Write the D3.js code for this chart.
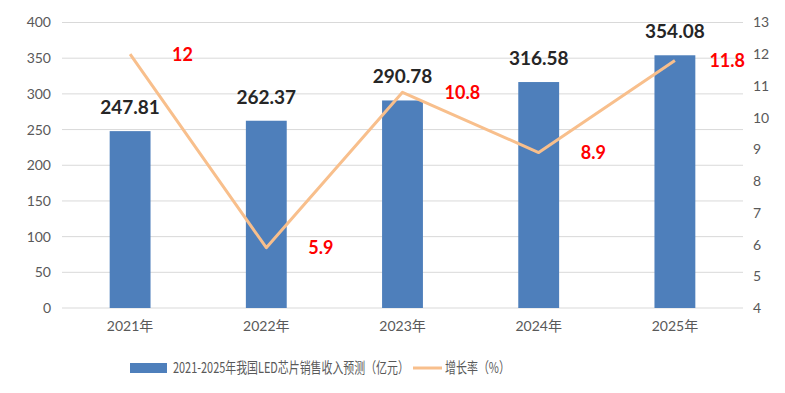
<!DOCTYPE html>
<html><head><meta charset="utf-8">
<script src="https://cdn.jsdelivr.net/npm/d3@7"></script>
<style>
html,body{margin:0;padding:0;background:#fff;}
svg{display:block;font-family:Lato,"Noto Sans CJK SC",sans-serif;}
</style></head>
<body>
<svg id="chart" width="785" height="393"></svg>
<script>
const years = ["2021年","2022年","2023年","2024年","2025年"];
const revenue = [247.81, 262.37, 290.78, 316.58, 354.08];
const growth = [12, 5.9, 10.8, 8.9, 11.8];
const leftTicks = [0,50,100,150,200,250,300,350,400];
const rightTicks = [4,5,6,7,8,9,10,11,12,13];
const seriesNames = ["2021-2025年我国LED芯片销售收入预测（亿元）","增长率（%）"];

const svg = d3.select("#chart");
const m = {left:62, right:743, top:22.5, bottom:308};

const x = d3.scaleBand().domain(years).range([m.left, m.right]).paddingInner(0.7).paddingOuter(0.35);
const yL = d3.scaleLinear().domain([0,400]).range([m.bottom, m.top]);
const yR = d3.scaleLinear().domain([4,13]).range([m.bottom, m.top]);

const barColor = "#4E7FBB", lineColor = "#F8BF8C", gridColor = "#D9D9D9", tickColor = "#595959";

// gridlines
svg.append("g").selectAll("line").data(leftTicks).join("line")
  .attr("x1", m.left).attr("x2", m.right)
  .attr("y1", d => yL(d)).attr("y2", d => yL(d))
  .attr("stroke", gridColor).attr("stroke-width", 1);

// left axis
const axL = svg.append("g").attr("transform", `translate(${m.left},0)`)
  .call(d3.axisLeft(yL).tickValues(leftTicks).tickSize(0).tickPadding(11));
axL.select(".domain").remove();
axL.selectAll("text").attr("fill", tickColor).style("font-size","14px").style("font-family","Lato,sans-serif");

// right axis
const axR = svg.append("g").attr("transform", `translate(${m.right},0)`)
  .call(d3.axisRight(yR).tickValues(rightTicks).tickSize(0).tickPadding(10));
axR.select(".domain").remove();
axR.selectAll("text").attr("fill", tickColor).style("font-size","14px").style("font-family","Lato,sans-serif");

// bottom axis labels
const axB = svg.append("g").attr("transform", `translate(0,${m.bottom})`)
  .call(d3.axisBottom(x).tickSize(0).tickPadding(13));
axB.select(".domain").remove();
axB.selectAll("text").attr("fill", tickColor).style("font-size","14px").style("font-family","Lato,'Noto Sans CJK SC',sans-serif");

// bars
svg.append("g").selectAll("rect").data(revenue).join("rect")
  .attr("x", (d,i) => x(years[i])).attr("width", x.bandwidth())
  .attr("y", d => yL(d)).attr("height", d => yL(0) - yL(d))
  .attr("fill", barColor);

// bar labels
svg.append("g").selectAll("text").data(revenue).join("text")
  .attr("x", (d,i) => x(years[i]) + x.bandwidth()/2)
  .attr("y", d => yL(d) - 17)
  .attr("text-anchor","middle")
  .attr("fill","#262626").style("font-size","19px").style("font-weight","bold")
  .text(d => d.toFixed(2));

// line
const line = d3.line().x((d,i) => x(years[i]) + x.bandwidth()/2).y(d => yR(d));
svg.append("path").datum(growth).attr("d", line)
  .attr("fill","none").attr("stroke", lineColor).attr("stroke-width", 3).attr("stroke-linejoin","round");

// growth labels
svg.append("g").selectAll("text").data(growth).join("text")
  .attr("y", d => yR(d))
  .attr("dy","0.35em")
  .attr("fill","#FF0000").style("font-size","18px").style("font-weight","bold")
  .text(d => String(d))
  .each(function(d,i){
    const cx = x(years[i]) + x.bandwidth()/2;
    const w = this.getComputedTextLength();
    d3.select(this).attr("x", Math.min(cx + 42, m.right + 2 - w));
  });

// legend
const lg = svg.append("g");
function legendText(str, x0, targetW){
  const t = lg.append("text").attr("dy","0.35em")
    .attr("fill", tickColor).style("font-size","15px").style("font-family","'Noto Sans CJK SC',sans-serif")
    .text(str);
  const w = t.node().getComputedTextLength();
  t.attr("transform", `translate(${x0},368) scale(${targetW / w},1)`);
}
lg.append("rect").attr("x",130).attr("y",363).attr("width",37).attr("height",10).attr("fill", barColor);
legendText(seriesNames[0], 173, 236);
lg.append("line").attr("x1",413).attr("x2",442).attr("y1",368).attr("y2",368)
  .attr("stroke", lineColor).attr("stroke-width",3);
legendText(seriesNames[1], 445, 65);
</script>
</body></html>
